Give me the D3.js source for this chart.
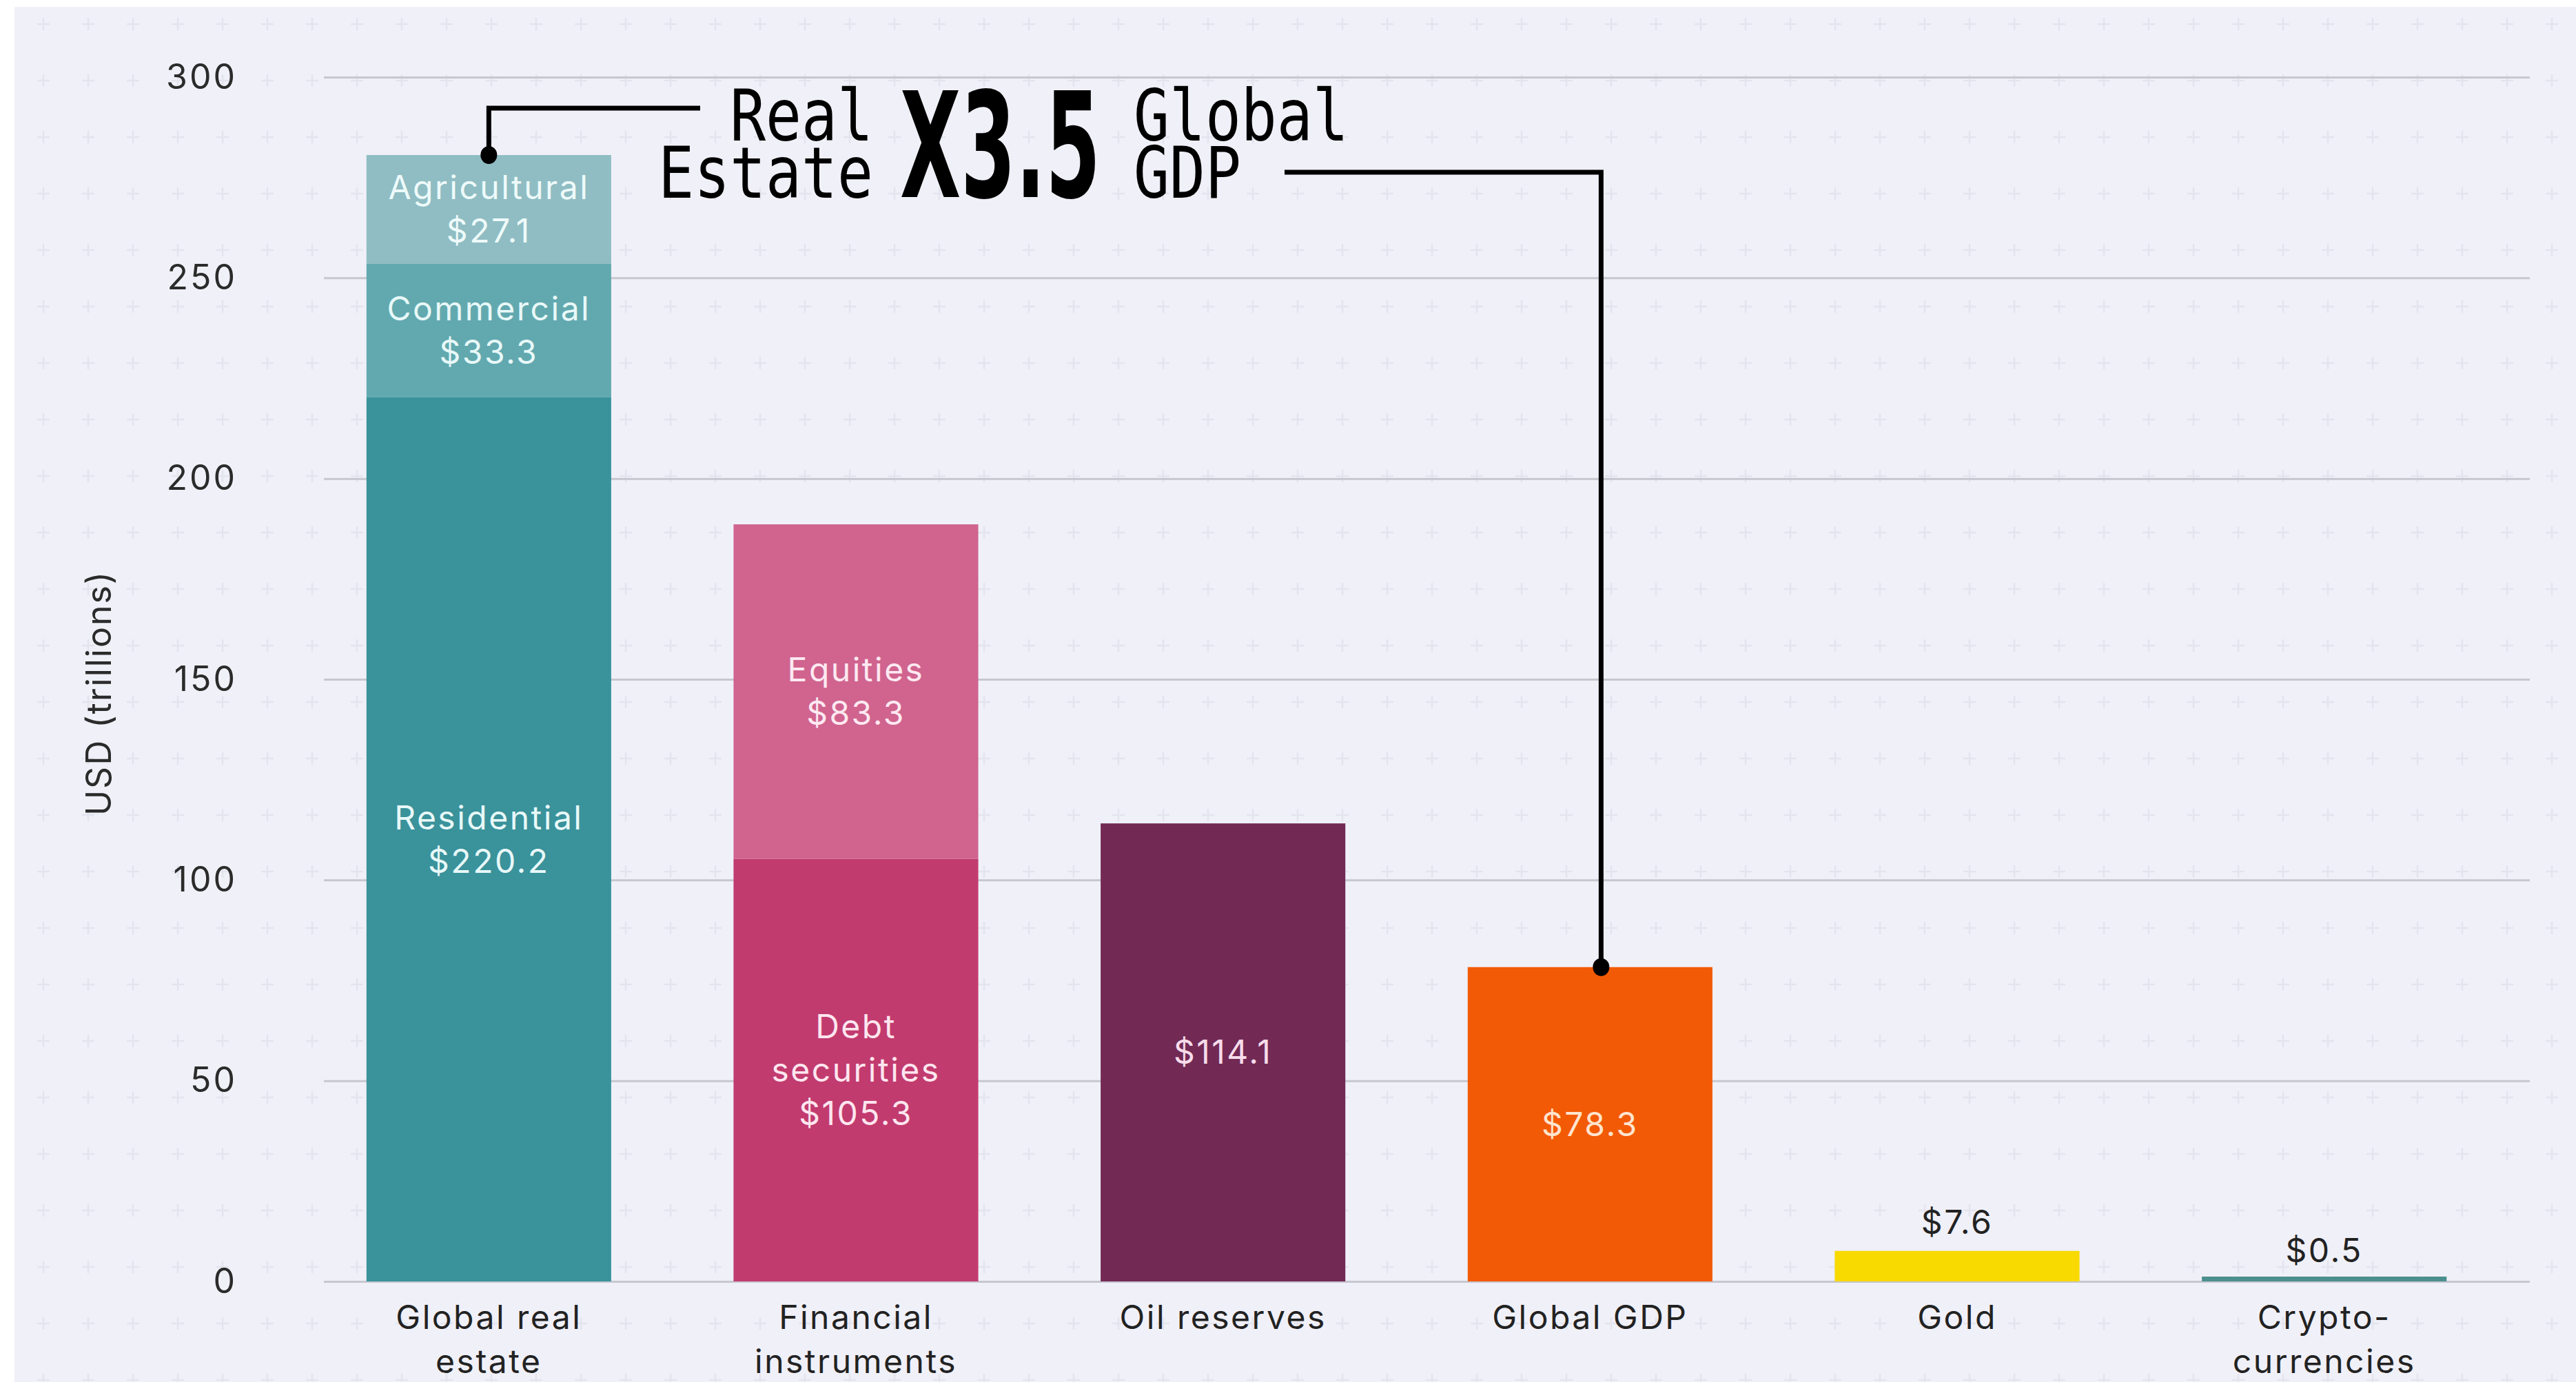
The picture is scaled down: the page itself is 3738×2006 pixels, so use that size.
<html>
<head>
    <title>Real estate vs other assets</title>
    <style>
        body{
            margin: 0;
            background: #ffffff;
        }
        svg{
            display: block;
        }
        .lbl{
            font-family: Inter, "Open Sans", sans-serif;
        }
    </style>
</head>
<body>
    <script src="https://d3js.org/d3.v7.min.js"></script>
    <svg></svg>
    <script>

    // categories along the x axis ("\n" = line break in the label)
    const categories = ["Global real\nestate", "Financial\ninstruments", "Oil reserves", "Global GDP", "Gold", "Crypto-\ncurrencies"];

    // one entry per stacked piece, bottom to top
    const segmentCategory = ["Global real\nestate", "Global real\nestate", "Global real\nestate",
                             "Financial\ninstruments", "Financial\ninstruments",
                             "Oil reserves", "Global GDP", "Gold", "Crypto-\ncurrencies"];
    const segmentNames = ["Residential", "Commercial", "Agricultural", "Debt\nsecurities", "Equities", "", "", "", ""];
    const segmentValues = [220.2, 33.3, 27.1, 105.3, 83.3, 114.1, 78.3, 7.6, 0.5];

    const yTicks = [0, 50, 100, 150, 200, 250, 300];

    // styles
    const segmentColors = ["#3a929b", "#62a9af", "#8fbdc3", "#c23b6f", "#d0648f", "#722a55", "#f35a05", "#f8d900", "#4b8f8e"];
    const segmentTextColors = ["#e8f8f8", "#e8f8f8", "#eefafa", "#fde6ef", "#fde9f1", "#f7dcea", "#ffe4cf", "#222", "#222"];

    let width = 3738;
    let height = 2006;

    let svg = d3.select("svg")
        .attr("width", width)
        .attr("height", height);

    // background with faint plus pattern
    let defs = svg.append("defs");
    let pat = defs.append("pattern")
        .attr("id", "plus")
        .attr("patternUnits", "userSpaceOnUse")
        .attr("x", 31).attr("y", -6)
        .attr("width", 65).attr("height", 82);
    pat.append("path")
        .attr("d", "M23,41H41M32,32V50")
        .attr("stroke", "#e4e4ee")
        .attr("stroke-width", 2.5);

    svg.append("rect")
        .attr("x", 21).attr("y", 10)
        .attr("width", width - 21).attr("height", height - 10)
        .attr("fill", "#f0f0f8");
    svg.append("rect")
        .attr("x", 21).attr("y", 10)
        .attr("width", width - 21).attr("height", height - 10)
        .attr("fill", "url(#plus)");

    var x = d3.scaleBand()
        .domain(categories)
        .range([443, 3639])
        .paddingInner(1/3)
        .paddingOuter(1/6);

    var y = d3.scaleLinear()
        .domain([0, 300])
        .range([1860, 112]);

    // gridlines + y tick labels
    let yAxis = svg.append("g")
        .attr("transform", "translate(470,0)")
        .call(d3.axisLeft(y).tickValues(yTicks).tickSize(-(3671 - 470)).tickPadding(126));
    yAxis.select(".domain").remove();
    yAxis.selectAll(".tick line")
        .attr("stroke", "#c6c7cf")
        .attr("stroke-width", 3);
    yAxis.selectAll(".tick text")
        .attr("class", "lbl")
        .attr("fill", "#2b2b2b")
        .style("font-size", "50px")
        .style("letter-spacing", "3px");

    svg.append("text")
        .attr("class", "lbl")
        .attr("transform", "translate(143,1006) rotate(-90)")
        .attr("text-anchor", "middle")
        .attr("dy", "0.35em")
        .attr("fill", "#2b2b2b")
        .style("font-size", "50px")
        .style("letter-spacing", "2px")
        .text("USD (trillions)");

    // stack the pieces
    let segs = [];
    let base = {};
    segmentValues.forEach((v, i) => {
        let c = segmentCategory[i];
        let y0 = base[c] || 0;
        segs.push({ cat: c, name: segmentNames[i], value: v, y0: y0, y1: y0 + v, i: i });
        base[c] = y0 + v;
    });

    svg.selectAll(".bar")
        .data(segs)
        .enter().append("rect")
        .attr("class", "bar")
        .attr("x", (d) => x(d.cat))
        .attr("width", x.bandwidth())
        .attr("y", (d) => Math.min(y(d.y1), y(d.y0) - 7))
        .attr("height", (d) => Math.max(y(d.y0) - y(d.y1), 7))
        .style("fill", (d) => segmentColors[d.i]);

    // value labels
    const lineH = 63;
    segs.forEach((d) => {
        let lines = (d.name ? d.name.split("\n") : []).concat(["$" + d.value.toFixed(1)]);
        let h = y(d.y0) - y(d.y1);
        let cy = h > 120 ? (y(d.y0) + y(d.y1)) / 2 : y(d.y1) - 42;
        let t = svg.append("text")
            .attr("class", "lbl")
            .attr("text-anchor", "middle")
            .attr("fill", h > 120 ? segmentTextColors[d.i] : "#222")
            .style("font-size", "48px")
            .style("letter-spacing", "2.5px");
        lines.forEach((s, k) => {
            t.append("tspan")
                .attr("x", x(d.cat) + x.bandwidth() / 2)
                .attr("y", cy + (k - (lines.length - 1) / 2) * lineH)
                .attr("dy", "0.35em")
                .text(s);
        });
    });

    // category labels
    let xAxis = svg.append("g")
        .attr("transform", "translate(0,1860)")
        .call(d3.axisBottom(x).tickSize(0).tickFormat(""));
    xAxis.select(".domain").remove();
    xAxis.selectAll(".tick").each(function(c) {
        let t = d3.select(this).append("text")
            .attr("class", "lbl")
            .attr("text-anchor", "middle")
            .attr("fill", "#222")
            .style("font-size", "48px")
            .style("letter-spacing", "2.5px");
        c.split("\n").forEach((s, k) => {
            t.append("tspan")
                .attr("x", 0)
                .attr("y", 52 + k * 64)
                .attr("dy", "0.35em")
                .text(s);
        });
    });

    // annotation: real estate is 3.5x global GDP
    let reTop = y(base[categories[0]]);
    let gdpTop = y(base[categories[3]]);
    let reX = x(categories[0]) + x.bandwidth() / 2;
    let gdpX = x(categories[3]) + x.bandwidth() / 2 + 16;

    svg.append("path")
        .attr("d", "M" + reX + "," + reTop + "V157H1016")
        .attr("fill", "none").attr("stroke", "#000").attr("stroke-width", 7);
    svg.append("path")
        .attr("d", "M1864,250H" + gdpX + "V" + gdpTop)
        .attr("fill", "none").attr("stroke", "#000").attr("stroke-width", 7);
    svg.append("ellipse").attr("cx", reX).attr("cy", reTop).attr("rx", 12).attr("ry", 13).attr("fill", "#000");
    svg.append("ellipse").attr("cx", gdpX).attr("cy", gdpTop).attr("rx", 12).attr("ry", 13).attr("fill", "#000");

    // two-line mono words, squeezed horizontally
    let mono = (l1, l2, xx, anchor) => {
        let t = svg.append("g")
            .attr("transform", "translate(" + xx + ",0) scale(0.83,1)")
            .append("text")
            .attr("text-anchor", anchor)
            .style("font-family", "'DejaVu Sans Mono', monospace")
            .style("font-size", "104px")
            .attr("fill", "#000");
        t.append("tspan").attr("x", 0).attr("y", 204).text(l1);
        t.append("tspan").attr("x", 0).attr("y", 287).text(l2);
    };
    mono("Real", "Estate", 1267, "end");
    mono("Global", "GDP", 1645, "start");

    let big = svg.append("g");
    let bigText = big.append("text")
        .attr("x", 0).attr("y", 286)
        .style("font-family", "'DejaVu Sans', sans-serif")
        .style("font-weight", "bold")
        .style("font-size", "212px")
        .attr("fill", "#000")
        .text("X3.5");
    let natural = bigText.node().getComputedTextLength();
    big.attr("transform", "translate(1306,0) scale(" + (291 / natural) + ",1)");

    </script>
</body>
</html>
